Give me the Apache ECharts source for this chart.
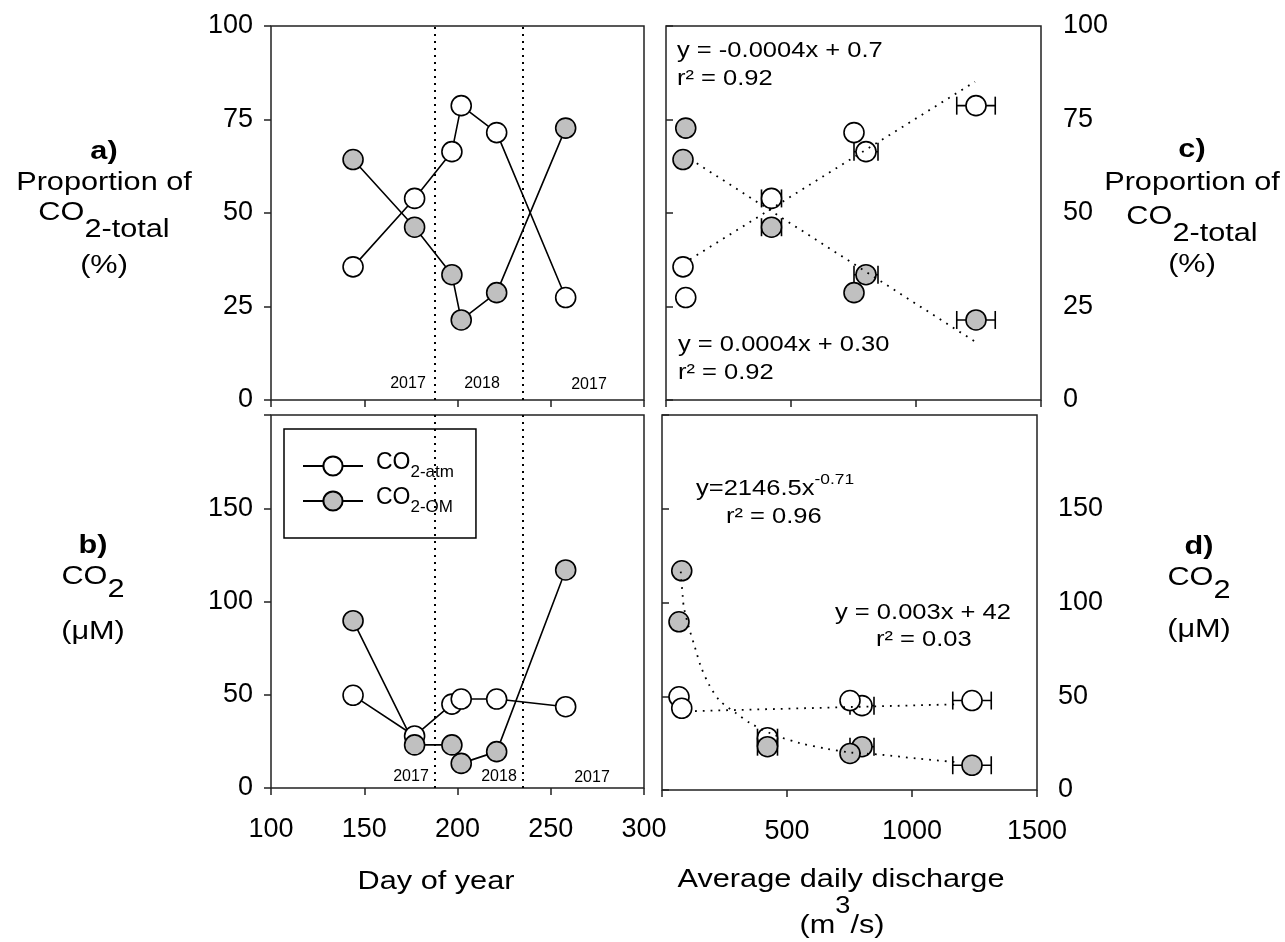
<!DOCTYPE html>
<html>
<head>
<meta charset="utf-8">
<script src="https://cdn.jsdelivr.net/npm/echarts@6/dist/echarts.min.js"></script>
<style>
html, body { margin: 0; padding: 0; background: #fff; }
#chart { width: 1285px; height: 942px; }
</style>
</head>
<body>
<div id="chart"></div>
<script>
// sampling days and the matching average daily discharge
var days = [144, 177, 197, 202, 221, 258];
var discharge = [68, 422, 800, 1240, 752, 79];
var dischargeErr = [0, 40, 48, 77, 0, 0];

// proportion of CO2-total (%)
var propAtm = [35.6, 53.9, 66.4, 78.7, 71.5, 27.4];
var propOM = [64.3, 46.2, 33.5, 21.4, 28.7, 72.7];

// CO2 (uM)
var co2Atm = [49.7, 27.9, 45.0, 47.7, 47.7, 43.6];
var co2OM = [89.7, 23.1, 23.1, 13.2, 19.5, 116.9];

// fitted lines
var fitPropAtm = [[96, 37.6], [1236, 85.1]];
var fitPropOM = [[123, 63.3], [1236, 15.6]];
var fitCo2Atm = [[132, 42.1], [1172, 45.7]];
var fitCo2OM = [[75, 116.5], [83, 103], [88, 97], [109, 86], [132, 76], [155, 66], [189, 56],
  [232, 47.5], [296, 41], [355, 35.5], [445, 29.6], [552, 25], [659, 22], [755, 20],
  [879, 18.8], [1019, 16.8], [1192, 14.7]];

var daySplits = [188, 235];

var font = 'Liberation Sans, Arial, sans-serif';
var ink = '#222';
var grey = '#c0c0c0';

function zip(xs, ys) {
  return xs.map(function (x, i) { return [x, ys[i]]; });
}
function withErr(ys) {
  return discharge.map(function (x, i) { return [x, ys[i], dischargeErr[i]]; });
}

var myChart = echarts.init(document.getElementById('chart'));

var tick = { show: true, length: 7, lineStyle: { color: ink, width: 1.5 } };
var label = { color: '#000', fontSize: 27, fontFamily: font };

function xAxis(grid, min, max, interval, showLabel, hideZero) {
  return {
    type: 'value', gridIndex: grid, min: min, max: max, interval: interval,
    axisLine: { show: false }, axisTick: tick, splitLine: { show: false },
    axisLabel: Object.assign({
      show: showLabel, margin: 28,
      formatter: function (v) { return hideZero && v === 0 ? '' : v; }
    }, label)
  };
}
function yAxis(grid, max, interval, pos, margin) {
  return {
    type: 'value', gridIndex: grid, min: 0, max: max, interval: interval, position: pos,
    axisLine: { show: false }, axisTick: tick, splitLine: { show: false },
    axisLabel: Object.assign({
      margin: margin,
      formatter: function (v) { return v === 200 ? '' : v; }
    }, label)
  };
}

function linkLine(name, grid, data, fill, withSplits) {
  var s = {
    name: name, type: 'line', xAxisIndex: grid, yAxisIndex: grid, data: data,
    symbol: 'circle', symbolSize: 20, animation: false,
    itemStyle: { color: fill, borderColor: '#000', borderWidth: 1.6 },
    lineStyle: { color: '#000', width: 1.6 }
  };
  if (withSplits) {
    s.markLine = {
      silent: true, symbol: 'none', label: { show: false },
      lineStyle: { color: '#000', width: 2, type: [2, 5] },
      data: daySplits.map(function (d) { return { xAxis: d }; })
    };
  }
  return s;
}
function fitLine(grid, data) {
  return {
    type: 'line', xAxisIndex: grid, yAxisIndex: grid, data: data, showSymbol: false,
    smooth: false, animation: false, silent: true,
    lineStyle: { color: '#000', width: 1.8, type: [1.8, 6] }
  };
}
function errRender(params, api) {
  var err = api.value(2);
  if (!err) return;
  var y = api.value(1);
  var lo = api.coord([api.value(0) - err, y]);
  var hi = api.coord([api.value(0) + err, y]);
  var st = { stroke: '#000', lineWidth: 1.6 };
  return {
    type: 'group', children: [
      { type: 'line', shape: { x1: lo[0], y1: lo[1], x2: hi[0], y2: hi[1] }, style: st },
      { type: 'line', shape: { x1: lo[0], y1: lo[1] - 9, x2: lo[0], y2: lo[1] + 9 }, style: st },
      { type: 'line', shape: { x1: hi[0], y1: hi[1] - 9, x2: hi[0], y2: hi[1] + 9 }, style: st }
    ]
  };
}
function errBars(grid, ys) {
  return {
    type: 'custom', xAxisIndex: grid, yAxisIndex: grid, data: withErr(ys),
    renderItem: errRender, encode: { x: 0, y: 1 }, silent: true, animation: false
  };
}
function dots(grid, ys, fill) {
  return {
    type: 'scatter', xAxisIndex: grid, yAxisIndex: grid, data: zip(discharge, ys),
    symbol: 'circle', symbolSize: 20, animation: false,
    itemStyle: { color: fill, borderColor: '#000', borderWidth: 1.6, opacity: 1 }
  };
}

// text is drawn a bit wider than the font, like in the original figure
function txt(x, y, text, size, align, sx, bold) {
  return {
    type: 'text', x: x, y: y, scaleX: sx || 1, silent: true,
    style: {
      text: text, fill: '#000', font: (bold ? 'bold ' : '') + size + 'px ' + font,
      textAlign: align || 'center', textVerticalAlign: 'middle'
    }
  };
}
// main text + lowered subscript; y is the centre of the main text
function subText(x, y, main, sub, size, shift, sx) {
  return {
    type: 'text', x: x, y: y + shift / 2, scaleX: sx, silent: true,
    style: {
      text: '{m|' + main + '}{s|' + sub + '}', textAlign: 'center', textVerticalAlign: 'middle',
      rich: {
        m: { fontSize: size, fontFamily: font, fill: '#000', lineHeight: size + shift, verticalAlign: 'top' },
        s: { fontSize: size, fontFamily: font, fill: '#000', lineHeight: 6, verticalAlign: 'bottom' }
      }
    }
  };
}

var boxStyle = { show: true, borderColor: ink, borderWidth: 1.5, backgroundColor: 'transparent' };
var SX = 1.18;
var EX = 1.16;

var option = {
  backgroundColor: '#fff',
  animation: false,
  textStyle: { fontFamily: font },
  grid: [
    Object.assign({ left: 271, top: 26, width: 373, height: 374 }, boxStyle),
    Object.assign({ left: 271, top: 415, width: 373, height: 373 }, boxStyle),
    Object.assign({ left: 666, top: 26, width: 375, height: 374 }, boxStyle),
    Object.assign({ left: 662, top: 415, width: 375, height: 375 }, boxStyle)
  ],
  xAxis: [
    xAxis(0, 100, 300, 50, false, false),
    xAxis(1, 100, 300, 50, true, false),
    xAxis(2, 0, 1500, 500, false, true),
    xAxis(3, 0, 1500, 500, true, true)
  ],
  yAxis: [
    yAxis(0, 100, 25, 'left', 18),
    yAxis(1, 200, 50, 'left', 18),
    yAxis(2, 100, 25, 'right', 22),
    yAxis(3, 200, 50, 'right', 21)
  ],
  legend: {
    data: ['atm', 'om'], orient: 'vertical', left: 284, top: 429,
    padding: [22, 22, 22, 18], itemGap: 5, itemWidth: 60, itemHeight: 24,
    borderColor: '#000', borderWidth: 1.5, selectedMode: false,
    formatter: function (n) { return n === 'atm' ? '{m|CO}{s|2-atm}' : '{m|CO}{s|2-OM}'; },
    textStyle: {
      padding: [0, 0, 0, 8],
      rich: {
        m: { fontSize: 23, fontFamily: font, color: '#000', lineHeight: 30, verticalAlign: 'top' },
        s: { fontSize: 17, fontFamily: font, color: '#000', lineHeight: 10, verticalAlign: 'bottom' }
      }
    }
  },
  series: [
    linkLine('atmA', 0, zip(days, propAtm), '#fff', true),
    linkLine('omA', 0, zip(days, propOM), grey, false),
    linkLine('atm', 1, zip(days, co2Atm), '#fff', true),
    linkLine('om', 1, zip(days, co2OM), grey, false),
    fitLine(2, fitPropAtm),
    fitLine(2, fitPropOM),
    errBars(2, propAtm),
    dots(2, propAtm, '#fff'),
    errBars(2, propOM),
    dots(2, propOM, grey),
    fitLine(3, fitCo2Atm),
    Object.assign(fitLine(3, fitCo2OM), { smooth: 0.3 }),
    errBars(3, co2Atm),
    dots(3, co2Atm, '#fff'),
    errBars(3, co2OM),
    dots(3, co2OM, grey)
  ],
  graphic: [
    // side labels
    txt(104, 152, 'a)', 26, 'center', SX, true),
    txt(104, 183, 'Proportion of', 26, 'center', SX),
    subText(104, 213, 'CO', '2-total', 26, 17, SX),
    txt(104, 266, '(%)', 26, 'center', SX),
    txt(1192, 150, 'c)', 26, 'center', SX, true),
    txt(1192, 183, 'Proportion of', 26, 'center', SX),
    subText(1192, 217, 'CO', '2-total', 26, 17, SX),
    txt(1192, 265, '(%)', 26, 'center', SX),
    txt(93, 546, 'b)', 26, 'center', SX, true),
    subText(93, 577, 'CO', '2', 26, 13, SX),
    txt(93, 632, '(μM)', 26, 'center', SX),
    txt(1199, 547, 'd)', 26, 'center', SX, true),
    subText(1199, 578, 'CO', '2', 26, 13, SX),
    txt(1199, 630, '(μM)', 26, 'center', SX),
    // axis titles
    txt(436, 882, 'Day of year', 26, 'center', SX),
    txt(841, 880, 'Average daily discharge', 26, 'center', SX),
    {
      type: 'text', x: 842, y: 917, scaleX: SX, silent: true,
      style: {
        text: '{m|(m}{p|3}{m|/s)}', textAlign: 'center', textVerticalAlign: 'middle',
        rich: {
          m: { fontSize: 26, fontFamily: font, fill: '#000', lineHeight: 44, verticalAlign: 'bottom' },
          p: { fontSize: 23, fontFamily: font, fill: '#000', lineHeight: 4, verticalAlign: 'top' }
        }
      }
    },
    // year labels
    txt(408, 384, '2017', 16), txt(482, 384, '2018', 16), txt(589, 385, '2017', 16),
    txt(411, 777, '2017', 16), txt(499, 777, '2018', 16), txt(592, 778, '2017', 16),
    // fit equations
    txt(677, 51, 'y = -0.0004x + 0.7', 22, 'left', EX),
    txt(677, 79, 'r² = 0.92', 22, 'left', EX),
    txt(678, 345, 'y = 0.0004x + 0.30', 22, 'left', EX),
    txt(678, 373, 'r² = 0.92', 22, 'left', EX),
    {
      type: 'text', x: 696, y: 486, scaleX: EX, silent: true,
      style: {
        text: '{m|y=2146.5x}{p|-0.71}', textAlign: 'left', textVerticalAlign: 'middle',
        rich: {
          m: { fontSize: 22, fontFamily: font, fill: '#000', lineHeight: 28, verticalAlign: 'bottom' },
          p: { fontSize: 15, fontFamily: font, fill: '#000', lineHeight: 10, verticalAlign: 'top' }
        }
      }
    },
    txt(726, 517, 'r² = 0.96', 22, 'left', EX),
    txt(835, 613, 'y = 0.003x + 42', 22, 'left', EX),
    txt(876, 640, 'r² = 0.03', 22, 'left', EX)
  ]
};

myChart.setOption(option);
</script>
</body>
</html>
